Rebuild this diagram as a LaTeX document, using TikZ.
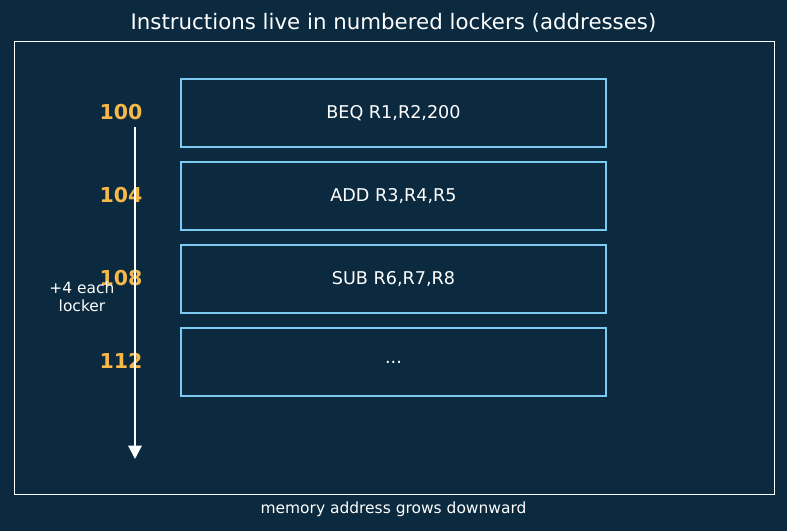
\documentclass[tikz,border=0pt]{standalone}
\usepackage{fontspec}
\setmainfont{DejaVu Sans}
\usetikzlibrary{arrows.meta,positioning}

\definecolor{navy}{HTML}{0B2A40}
\definecolor{lockerblue}{HTML}{7CCAF2}
\definecolor{addrorange}{HTML}{F5B849}

\tikzset{
	locker/.style={draw=lockerblue, line width=2.2pt, minimum width=318.75pt, minimum height=51pt, text=white, font=\fontsize{13.2}{15}\selectfont},
	addr/.style={text=addrorange, font=\fontsize{15.4}{18}\selectfont\bfseries},
	note/.style={text=white, font=\fontsize{11.6}{13.5}\selectfont, align=center}
}

\begin{document}
\begin{tikzpicture}[x=0.75pt, y=-0.75pt]
	\fill[navy] (0, 0) rectangle (787, 531);
	\useasboundingbox (0, 0) rectangle (787, 531);
	\node [text=white, font=\fontsize{16}{19}\selectfont]	(Title)	at (393.5, 23) {Instructions live in numbered lockers (addresses)};
	\draw [white, line width=0.6pt] (14, 41) rectangle (774, 494);

	% lockers with their addresses
	\node [locker]	(Beq)	at (393.5, 113) {BEQ R1,R2,200};
	\node [locker]	(Add)	at (393.5, 196) {ADD R3,R4,R5};
	\node [locker]	(Sub)	at (393.5, 279) {SUB R6,R7,R8};
	\node [locker]	(More)	at (393.5, 362) {...};
	\node [addr]	(A100)	at (121, 112) {100};
	\node [addr]	(A104)	at (121, 195) {104};
	\node [addr]	(A108)	at (121, 278) {108};
	\node [addr]	(A112)	at (121, 361) {112};

	% address axis
	\coordinate (Top)	at (135, 127);
	\coordinate (Bottom)	at (135, 459);
	\draw [white, line width=1.5pt, -{Triangle[width=10pt, length=10pt]}] (Top) -- (Bottom);
	\node [note]	(Step)	at (82, 297) {+4 each\\locker};
	\node [note]	(Caption)	at (393.5, 509) {memory address grows downward};
\end{tikzpicture}
\end{document}
